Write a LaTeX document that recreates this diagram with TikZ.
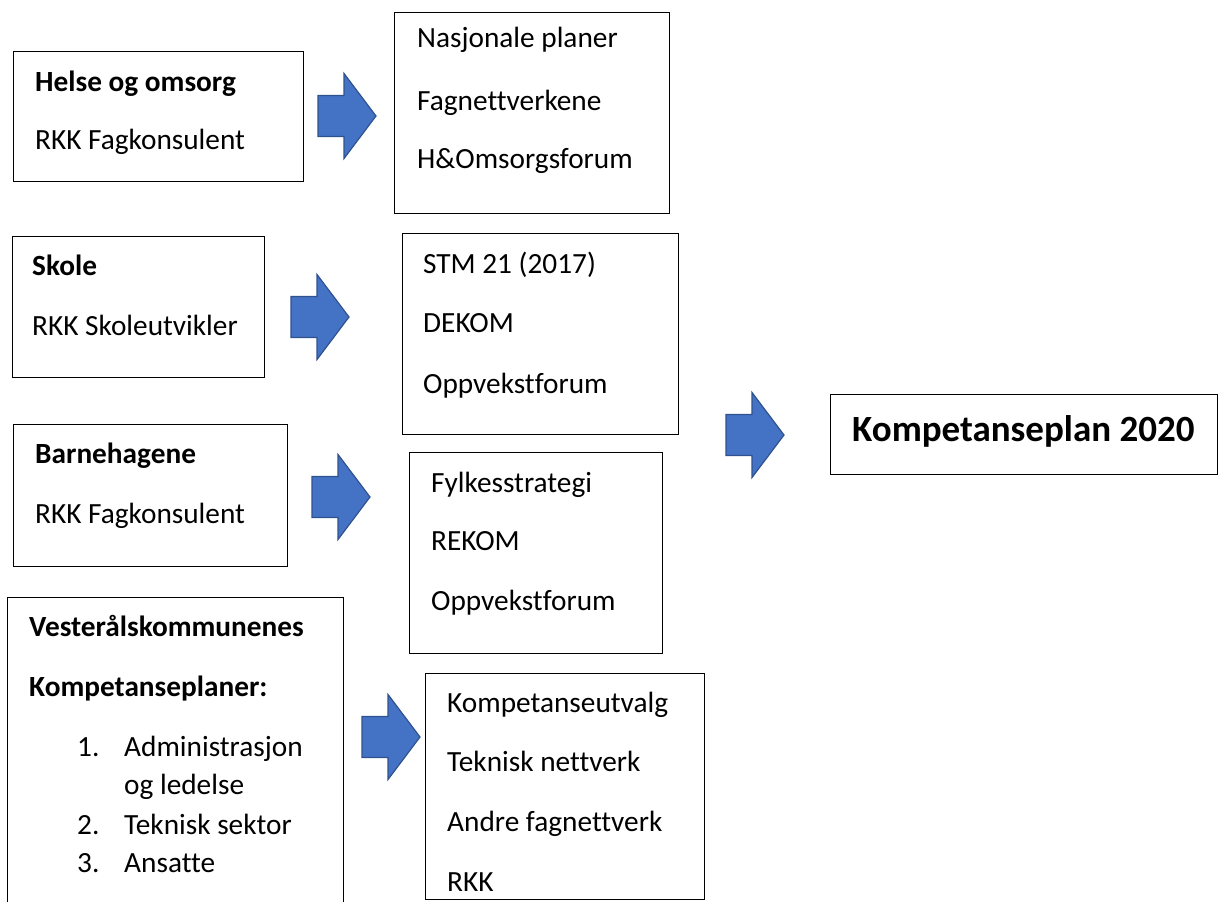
\documentclass[tikz,border=0pt]{standalone}
\usepackage{fontspec}
\setmainfont[Ligatures=NoCommon]{Carlito}
\definecolor{pilblaa}{HTML}{4472C4}
\definecolor{pilkant}{HTML}{2F528F}
\tikzset{
  boks/.style={draw, line width=1.3pt, anchor=north west, inner sep=0pt},
  tekst/.style={anchor=base west, inner sep=0pt, font=\fontsize{29.3}{34}\selectfont},
  tittel/.style={anchor=base west, inner sep=0pt, font=\fontsize{29.3}{34}\selectfont\bfseries},
  pil/.style={fill=pilblaa, draw=pilkant, line width=1.2pt, line join=miter}
}
\begin{document}
\begin{tikzpicture}[x=1pt,y=-1pt]
    \clip (0,0) rectangle (1219,902);%samme format som bildet
    % venstre kolonne
    \node[boks, minimum width=290pt, minimum height=130pt] (helse) at (13,51) {};
    \node[tittel] (helse1) at (35,91) {Helse og omsorg};
    \node[tekst] (helse2) at (35,149) {RKK Fagkonsulent};
    \node[boks, minimum width=252pt, minimum height=141pt] (skole) at (12,236) {};
    \node[tittel] (skole1) at (32,275) {Skole};
    \node[tekst] (skole2) at (32,335) {RKK Skoleutvikler};
    \node[boks, minimum width=274pt, minimum height=142pt] (barnehage) at (13,424) {};
    \node[tittel] (barn1) at (35,463) {Barnehagene};
    \node[tekst] (barn2) at (35,523) {RKK Fagkonsulent};
    \node[boks, minimum width=336pt, minimum height=330pt] (vesteraal) at (7,597) {};%g\aa r ut av bildet
    \node[tittel] (vest1) at (29,636) {Vesterålskommunenes};
    \node[tittel] (vest2) at (29,696) {Kompetanseplaner:};
    \node[tekst] (nr1) at (77,756) {1.};
    \node[tekst] (adm) at (124,756) {Administrasjon};
    \node[tekst] (adm2) at (124,794) {og ledelse};
    \node[tekst] (nr2) at (77,834) {2.};
    \node[tekst] (tek) at (124,834) {Teknisk sektor};
    \node[tekst] (nr3) at (77,872) {3.};
    \node[tekst] (ans) at (124,872) {Ansatte};
    % midtre kolonne
    \node[boks, minimum width=275pt, minimum height=201pt] (nasjonal) at (394,12) {};
    \node[tekst] (nas1) at (417,47) {Nasjonale planer};
    \node[tekst] (nas2) at (417,110) {Fagnettverkene};
    \node[tekst] (nas3) at (417,168) {H\&Omsorgsforum};
    \node[boks, minimum width=276pt, minimum height=201pt] (stm) at (402,233) {};
    \node[tekst] (stm1) at (423,273) {STM 21 (2017)};
    \node[tekst] (stm2) at (423,332) {DEKOM};
    \node[tekst] (stm3) at (423,393) {Oppvekstforum};
    \node[boks, minimum width=253pt, minimum height=201pt] (fylke) at (409,452) {};
    \node[tekst] (fyl1) at (431,492) {Fylkesstrategi};
    \node[tekst] (fyl2) at (431,550) {REKOM};
    \node[tekst] (fyl3) at (431,610) {Oppvekstforum};
    \node[boks, minimum width=279pt, minimum height=226pt] (utvalg) at (425,673) {};
    \node[tekst] (utv1) at (447,712) {Kompetanseutvalg};
    \node[tekst] (utv2) at (447,771) {Teknisk nettverk};
    \node[tekst] (utv3) at (447,831) {Andre fagnettverk};
    \node[tekst] (utv4) at (447,891) {RKK};
    % resultat
    \node[boks, minimum width=387pt, minimum height=80pt] (plan) at (830,394) {};
    \node[anchor=base west, inner sep=0pt, font=\fontsize{37}{42}\selectfont\bfseries] (plantekst) at (852,441) {Kompetanseplan 2020};
    % blokkpiler
    \foreach \x/\y in {318/116, 291/317, 312/497, 362/737, 726/435}
        \draw[pil] (\x,\y-20.5) -- ++(26,0) -- ++(0,-22) -- ++(32,42.5)
            -- ++(-32,42.5) -- ++(0,-22) -- ++(-26,0) -- cycle;
\end{tikzpicture}
\end{document}
